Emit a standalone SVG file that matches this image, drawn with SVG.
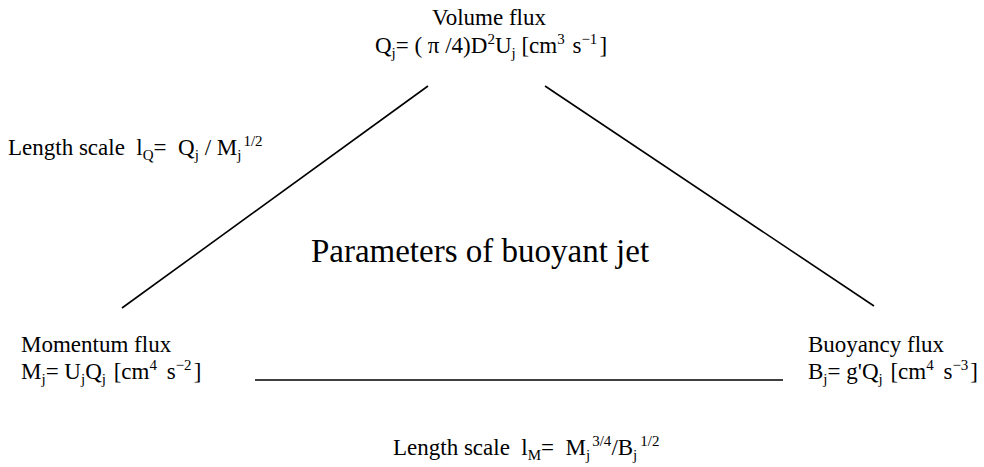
<svg xmlns="http://www.w3.org/2000/svg" width="984" height="467" viewBox="0 0 984 467">
<style>
text{font-family:"Liberation Serif","Times New Roman",serif;font-size:23px;fill:#000;white-space:pre}
.t{font-size:33px}
.s{font-size:15px}
.c{stroke:#000;stroke-width:1.6;fill:none}
</style>
<rect width="984" height="467" fill="#fff"/>
<g id="connectors">
<line class="c" x1="428" y1="86" x2="122" y2="308"/>
<line class="c" x1="545" y1="86" x2="874" y2="306"/>
<line class="c" x1="255" y1="380" x2="783" y2="380"/>
</g>
<g id="volume">
<text x="489" y="25" text-anchor="middle">Volume flux</text>
<text x="491" y="53" text-anchor="middle">Q<tspan class="s" dy="5">j</tspan><tspan dy="-5">= ( π /4)D</tspan><tspan class="s" dy="-9">2</tspan><tspan dy="9">U</tspan><tspan class="s" dy="5">j</tspan><tspan dy="-5"> [cm</tspan><tspan class="s" dy="-9">3</tspan><tspan dy="9" dx="2"> s</tspan><tspan class="s" dy="-9">−1</tspan><tspan dy="9" dx="2">]</tspan></text>
</g>
<g id="momentum">
<text x="21" y="352">Momentum flux</text>
<text x="21" y="379">M<tspan class="s" dy="5">j</tspan><tspan dy="-5">= U</tspan><tspan class="s" dy="5">j</tspan><tspan dy="-5">Q</tspan><tspan class="s" dy="5">j</tspan><tspan dy="-5" dx="2"> [cm</tspan><tspan class="s" dy="-9">4</tspan><tspan dy="9" dx="4"> s</tspan><tspan class="s" dy="-9">−2</tspan><tspan dy="9" dx="2">]</tspan></text>
</g>
<g id="buoyancy">
<text x="808" y="352">Buoyancy flux</text>
<text x="808" y="379">B<tspan class="s" dy="5">j</tspan><tspan dy="-5">= g'Q</tspan><tspan class="s" dy="5">j</tspan><tspan dy="-5" dx="2"> [cm</tspan><tspan class="s" dy="-9">4</tspan><tspan dy="9" dx="4"> s</tspan><tspan class="s" dy="-9">−3</tspan><tspan dy="9" dx="2">]</tspan></text>
</g>
<g id="lengthQ">
<text x="8" y="155" xml:space="preserve">Length scale  l<tspan class="s" dy="5">Q</tspan><tspan dy="-5">=  Q</tspan><tspan class="s" dy="5">j</tspan><tspan dy="-5"> / M</tspan><tspan class="s" dy="5">j</tspan><tspan class="s" dy="-14" dx="2">1/2</tspan></text>
</g>
<g id="lengthM">
<text x="393" y="455" xml:space="preserve">Length scale  l<tspan class="s" dy="5">M</tspan><tspan dy="-5">=  M</tspan><tspan class="s" dy="5">j</tspan><tspan class="s" dy="-14" dx="2">3/4</tspan><tspan dy="9">/B</tspan><tspan class="s" dy="5">j</tspan><tspan class="s" dy="-14" dx="3">1/2</tspan></text>
</g>
<g id="title">
<text class="t" x="480" y="262" text-anchor="middle">Parameters of buoyant jet</text>
</g>
</svg>
